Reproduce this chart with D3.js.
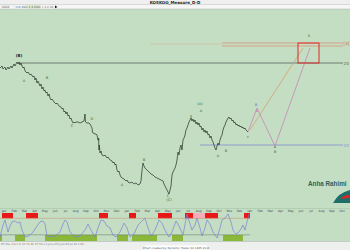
<!DOCTYPE html>
<html><head><meta charset="utf-8">
<script src="https://cdn.jsdelivr.net/npm/d3@7"></script>
<style>
body{margin:0;background:#fff}
svg{display:block;font-family:"DejaVu Sans",Arial,sans-serif}
</style>
</head><body>
<svg id="chart" width="350" height="250"></svg>
<script>
// price path [bar, price]
const priceBars = [0,2,3,5,6,8,9,11,12,14,15,17,18,19,20,21,22,23,24,25,27,28,30,31,33,34,35,36,37,38,40,41,42,43,44,45,46,47,48,49,50,51,52,54,56,57,59,61,62,63,64,65,66,67,68,69,70,71,72,73,74,75,76,78,80,82,84,85,85.5,87,89,90,91,92,92.5,93,95,96,97,98,98.5,99,99.3,100,101,102,104,105,107,108,110,112,113,114,115,116,117,118,119,120,121,122,124,126,127,128,130,132,134,136,138,140,141,142,143,144,145,147,149,151,153,155,157,159,161,163,164,165,166,167,168,169,170,171,172,173,174,175,176,177,178,179,180,181,182,183,184,185,186,187,188,189,190,191,192,193,194,195,196,197,198,199,200,201,202,203,204,205,206,207,208,209,210,211,212,213,214,215,216,217,218,219,220,221,222,223,224,225,226,227,228,229,230,231,232,233,234,235,236,237,238,239,240,241,242,243,244,245,246,247,248]
const priceVals = [142,144,141,143,140,143,141,144,142,146,144,148,146,148,145,147,144,142,143,139,137,138,135,136,133,134,130,132,127,129,124,126,121,123,119,120,117,118,114,116,112,110,111,108,106,107,104,103,101,102,98,99,96,98,94,95,91,92,89,87,88,87,88,88,87,88,89,96,88,87,87,86,84,82,78,77,76,76,75,70,72,60,65,57,59,55,54,55,52,53,50,49,47,48,45,46,40,38,39,35,33,32,31,29,30,28,27,28,26,27,25,26,29,40,47,44,42,40,38,36,35,33,32,31,30,29,26,24,22,20,18,16,20,24,35,38,40,42,45,50,58,55,62,65,60,70,72,75,80,82,85,88,90,92,89,91,88,90,86,88,85,87,83,84,80,82,78,80,77,79,75,76,72,74,70,68,65,62,60,64,67,65,70,73,75,80,83,85,88,90,92,93,91,92,89,90,87,88,85,86,84,85,83,84,82,83,81,82,80,79,78]

// wave labels
const waveText = ["(B)","A","B","C","D","E","A","B","C","(C)","3","(A)","A","A","B","c","B","b","4","B","5"]
const waveBar  = [19,24,47,72,92,99,122,144,168,169,191,200,201,218,226,248,256,257,275,275,309]
const wavePrice= [153,128,131,83,90,69,24,49,13,9,92,105,98,53,58,72,104,98,62,57,173]

// projection paths
const projOrangeBar = [250,303]
const projOrangePrice = [80,162]
const projPinkBar = [248,257,275,310]
const projPinkPrice = [78,102,64,162]

// target box
const boxBars = [298,319]
const boxPrices = [167,147]

// horizontal levels
const levelPrice = [167,164,147,65]
const levelStart = [222,222,18,200]
const levelText = ["[3]","","20","20"]

// oscillator
const oscBar = [0,3,5,8,10,12,15,18,20,22,25,28,30,33,37,40,43,45,47,50,55,60,63,65,67,70,75,80,85,88,91,95,98,101,104,107,110,113,116,120,124,127,130,134,138,141,145,148,151,155,159,162,165,169,172,176,179,183,187,190,192,195,197,200,202,205,207,210,213,217,220,222,225,228,231,233,236,238,241,243,245,247,249]
const oscVal = [4,54,75,25,50,67,71,62,67,33,4,8,12,25,50,67,71,58,8,4,8,25,58,75,67,25,4,8,33,58,33,4,42,75,71,50,42,12,4,25,62,42,4,17,54,67,83,42,8,33,75,62,33,4,25,71,50,12,100,58,33,54,83,42,8,42,75,58,25,0,42,75,83,100,67,33,17,21,38,54,33,67,100]

// cycle zones
const hiZones = [[2,13],[26,38],[99,108],[129,136],[158,172],[185,193],[205,218],[244,250]]
const softZones = [[193,205]]
const loZones = [[0,2],[15,25],[45,97],[117,128],[132,157],[172,183],[223,243]]

// time axis
const monthLabels = ["Jan","Feb","Mar","Apr","May","Jun","Jul","Aug","Sep","Oct","Nov","Dec","Jan","Feb","Mar","Apr","May","Jun","Jul","Aug","Sep","Oct","Nov","Dec","Jan","Feb","Mar","Apr","May","Jun","Jul","Aug","Sep","Oct"]

const svg = d3.select("#chart")
const x = d3.scaleLinear().domain([0,350]).range([0,350])
const y = d3.scaleLinear().domain([0,200]).range([210,10])
const yo = d3.scaleLinear().domain([0,100]).range([238,214])
const xm = d3.scalePoint().domain(d3.range(monthLabels.length)).range([4,342])

const green = "#c3dec3"

// header
svg.append("rect").attr("width",350).attr("height",250).attr("fill",green)
svg.append("rect").attr("width",350).attr("height",4.5).attr("fill","#efefef")
svg.append("rect").attr("y",4.5).attr("width",350).attr("height",4.5).attr("fill","#f6f6f6")
svg.append("line").attr("x1",0).attr("x2",350).attr("y1",4.5).attr("y2",4.5).attr("stroke","#bbb").attr("stroke-width",0.4)
svg.append("line").attr("x1",0).attr("x2",350).attr("y1",9).attr("y2",9).attr("stroke","#aaa").attr("stroke-width",0.4)
svg.append("text").attr("x",175).attr("y",3.6).attr("text-anchor","middle")
  .attr("font-size",4).attr("font-weight","bold").attr("fill","#222").text("KOSKOO_Measure_D-D")

const info = ["2006","119.6902","1.4 0000","1.4 0.00"]
const infoFill = ["#f6f6f6","#fff","#dfeecb","#fff"]
const infoX = d3.scaleBand().domain(d3.range(info.length)).range([0,54]).padding(0.08)
info.forEach((t,i)=>{
	svg.append("rect").attr("x",infoX(i)).attr("y",5.2).attr("width",infoX.bandwidth()).attr("height",3.3)
	  .attr("fill",infoFill[i]).attr("stroke","#ccc").attr("stroke-width",0.2)
	svg.append("text").attr("x",infoX(i)+1).attr("y",7.9).attr("font-size",2.8).attr("fill","#555").text(t)
})
svg.append("path").attr("d","M55,5.5L57.5,6.9L55,8.3Z").attr("fill","#111")

// horizontal levels
svg.append("line").attr("x1",x(150)).attr("x2",x(222)).attr("y1",y(166)).attr("y2",y(166))
  .attr("stroke","#d9b095").attr("stroke-width",0.8).attr("opacity",0.6)
const levelColor = ["#d89a80","#d89a80","#55655a","#7f8fd6"]
levelPrice.forEach((p,i)=>{
	svg.append("line").attr("x1",x(levelStart[i])).attr("x2",x(343)).attr("y1",y(p)).attr("y2",y(p))
	  .attr("stroke",levelColor[i]).attr("stroke-width",i<2?0.9:0.8)
	if(levelText[i])
		svg.append("text").attr("x",x(343.5)).attr("y",y(p)+1.5).attr("font-size",4.2)
		  .attr("fill",i==0?"#d05040":levelColor[i]).text(levelText[i])
})

// projections
const line = d3.line().x(d=>x(d[0])).y(d=>y(d[1]))
svg.append("path").attr("d",line(d3.zip(projOrangeBar,projOrangePrice)))
  .attr("fill","none").attr("stroke","#d8a070").attr("stroke-width",0.8)
svg.append("path").attr("d",line(d3.zip(projPinkBar,projPinkPrice)))
  .attr("fill","none").attr("stroke","#c886b6").attr("stroke-width",0.8)

// box
svg.append("rect").attr("x",x(boxBars[0])).attr("y",y(boxPrices[0]))
  .attr("width",x(boxBars[1])-x(boxBars[0])).attr("height",y(boxPrices[1])-y(boxPrices[0]))
  .attr("fill","none").attr("stroke","#e02a2a").attr("stroke-width",1)

// price
svg.append("path").attr("d",line(d3.zip(priceBars,priceVals)))
  .attr("fill","none").attr("stroke","#2c3a2e").attr("stroke-width",0.75).attr("stroke-linejoin","bevel")

// wave labels
svg.selectAll(".wave").data(waveText).join("text")
  .attr("x",(d,i)=>x(waveBar[i])).attr("y",(d,i)=>y(wavePrice[i]))
  .attr("text-anchor","middle").attr("font-size",(d,i)=>i==0?4:3.6)
  .attr("font-weight",(d,i)=>i==0?"bold":"normal")
  .attr("fill",(d,i)=>i==0?"#222":i==16?"#5a6fd0":i==17?"#c870a8":"#2f6a3a")
  .text(d=>d)

// time axis
svg.append("line").attr("x1",0).attr("x2",350).attr("y1",208.5).attr("y2",208.5).attr("stroke","#9ab89a").attr("stroke-width",0.4)
svg.selectAll(".mon").data(monthLabels).join("text")
  .attr("x",(d,i)=>xm(i)).attr("y",211.8).attr("text-anchor","middle")
  .attr("font-size",3).attr("fill","#445").text(d=>d)

// zones
const zone = (arr,y0,h,fill)=>svg.append("g").selectAll("rect").data(arr).join("rect")
  .attr("x",d=>x(d[0])).attr("width",d=>x(d[1])-x(d[0])).attr("y",y0).attr("height",h).attr("fill",fill)
zone(hiZones,213,5.3,"#e81818")
zone(softZones,213,5.3,"#f5aeb8")
zone(loZones,235,6,"#8cb83a")

svg.append("line").attr("x1",0).attr("x2",x(250)).attr("y1",218.3).attr("y2",218.3).attr("stroke","#cf8a6a").attr("stroke-width",0.5)
svg.append("line").attr("x1",0).attr("x2",x(250)).attr("y1",234.8).attr("y2",234.8).attr("stroke","#4c5c4c").attr("stroke-width",0.4)
svg.append("line").attr("x1",0).attr("x2",350).attr("y1",241.5).attr("y2",241.5).attr("stroke","#889").attr("stroke-width",0.4)

// oscillator
svg.append("path").attr("d",d3.line().x(d=>x(d[0])).y(d=>yo(d[1]))(d3.zip(oscBar,oscVal)))
  .attr("fill","none").attr("stroke","#7d7fd8").attr("stroke-width",0.7)

// status bar
svg.append("rect").attr("y",241.7).attr("width",350).attr("height",8.3).attr("fill","#eef0ee")
svg.append("text").attr("x",1).attr("y",244.6).attr("font-size",2.6).attr("fill","#777")
  .text("DT Osc (14,3,3)  52.15  48.70   Time Cycles  Proj  Jun 09  Jul 18  2.00 ...")
svg.append("rect").attr("x",145).attr("y",245.5).attr("width",62).attr("height",4).attr("fill","#fff")
svg.append("text").attr("x",176).attr("y",248.6).attr("text-anchor","middle").attr("font-size",2.8).attr("fill","#555")
  .text("Chart created by Dynamic Trader  22.1465 20.6")

// watermark
svg.append("text").attr("x",308).attr("y",185.5).attr("font-size",6.3).attr("font-weight","bold")
  .attr("font-family","'Liberation Sans',Arial,sans-serif")
  .attr("fill","#2e6060").text("Anha Rahimi")
svg.append("path").attr("d","M333,203 Q338,193 350,190 L350,203 Z").attr("fill","#1f6e6a")
svg.append("path").attr("d","M342,197 L347,195 L347,193.5 L350,196.5 L347,199.5 L347,198 L342,199 Z").attr("fill","#d82828")
</script>
</body></html>
